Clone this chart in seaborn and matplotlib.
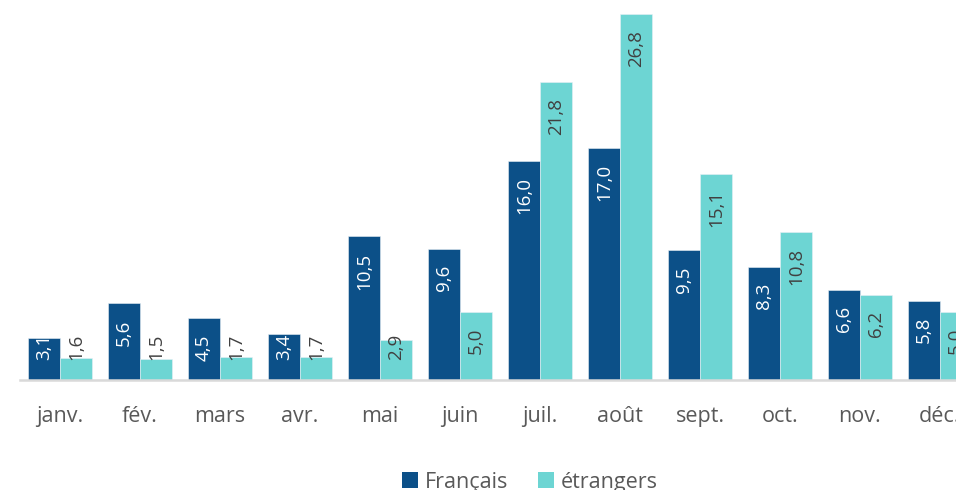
import pandas as pd
import seaborn as sns
import matplotlib.pyplot as plt
from matplotlib.patches import Patch

mois = ['janv.', 'fév.', 'mars', 'avr.', 'mai', 'juin', 'juil.', 'août', 'sept.', 'oct.', 'nov.', 'déc.']
francais = [3.1, 5.6, 4.5, 3.4, 10.5, 9.6, 16.0, 17.0, 9.5, 8.3, 6.6, 5.8]
etrangers = [1.6, 1.5, 1.7, 1.7, 2.9, 5.0, 21.8, 26.8, 15.1, 10.8, 6.2, 5.0]
groupes = ['Français', 'étrangers']
couleurs = ['#0C5088', '#6DD5D3']

df = pd.DataFrame({
    'mois': mois * 2,
    'valeur': francais + etrangers,
    'groupe': [groupes[0]] * len(mois) + [groupes[1]] * len(mois),
})

sns.set_style('white')
plt.rcParams['font.family'] = ['Open Sans', 'DejaVu Sans']

fig = plt.figure(figsize=(9.56, 4.9), dpi=100)
ax = fig.add_axes([20 / 956, 110 / 490, 1 - 20 / 956, 380 / 490])

sns.barplot(data=df, x='mois', y='valeur', hue='groupe', palette=couleurs,
            order=mois, hue_order=groupes, width=0.8, saturation=1, ax=ax,
            edgecolor='#E8F0F5', linewidth=0.4, legend=False)

ax.set_xlim(-0.5, 11.2)
ax.set_ylim(0, 27.8)
ax.set_xlabel('')
ax.set_ylabel('')
ax.set_yticks([])
for s in ['top', 'right', 'left']:
    ax.spines[s].set_visible(False)
ax.spines['bottom'].set_color('#D9D9D9')
ax.spines['bottom'].set_linewidth(1.8)
ax.tick_params(axis='x', length=0, pad=19, labelsize=15.5, labelcolor='#595959')

# étiquettes de valeur, verticales, en haut à l'intérieur des barres
px = 27.8 / 380
couleurs_txt = ['white', '#404040']
for cont, tc in zip(ax.containers, couleurs_txt):
    for bar, v in zip(cont, cont.datavalues):
        lab = f'{v:.1f}'.replace('.', ',')
        x = bar.get_x() + bar.get_width() / 2
        longueur = ((len(lab) - 1) * 9.5 + 4) * px
        if v - 16 * px - longueur >= 20 * px:
            ax.text(x, v - 16 * px, lab, rotation=90, ha='center', va='top',
                    color=tc, fontsize=13.5)
        else:
            ax.text(x, 20 * px, lab, rotation=90, ha='center', va='bottom',
                    color=tc, fontsize=13.5)

handles = [Patch(facecolor=c, edgecolor='none') for c in couleurs]
fig.legend(handles, groupes, loc='center', bbox_to_anchor=(530 / 956, 8 / 490), ncol=2,
           frameon=False, fontsize=15.5, handlelength=0.75, handleheight=0.75,
           handletextpad=0.3, columnspacing=1.4, labelcolor='#595959')

fig.savefig('out.png', dpi=100)
